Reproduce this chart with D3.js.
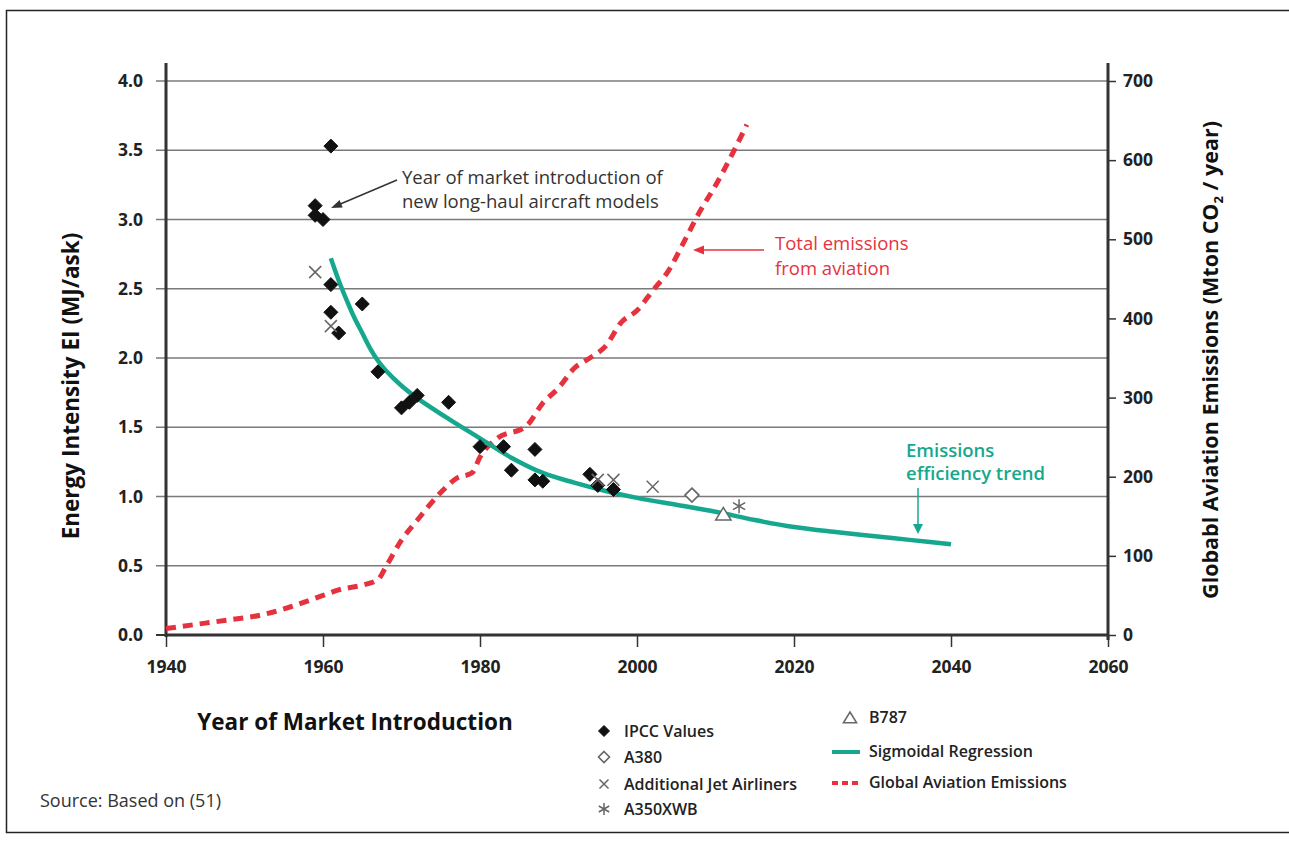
<!DOCTYPE html>
<html><head><meta charset="utf-8">
<script src="https://cdn.jsdelivr.net/npm/d3@7"></script>
<style>
body{margin:0;background:#fff;}
svg{display:block;}
text{font-family:"Open Sans", Lato, sans-serif;}
</style></head>
<body>
<svg id="chart" width="1289" height="843"></svg>
<script>
// ---- data ----
const xTicks = [1940, 1960, 1980, 2000, 2020, 2040, 2060];
const yLeftTicks = [0, 0.5, 1.0, 1.5, 2.0, 2.5, 3.0, 3.5, 4.0];
const yRightTicks = [0, 100, 200, 300, 400, 500, 600, 700];

const ipccYears = [1961,1959,1959,1960,1961,1961,1962,1965,1967,1970,1971,1972,1976,1980,1983,1984,1987,1987,1988,1994,1995,1997];
const ipccEI    = [3.53,3.10,3.03,3.00,2.53,2.33,2.18,2.39,1.90,1.64,1.68,1.73,1.68,1.36,1.36,1.19,1.34,1.12,1.11,1.16,1.08,1.05];

const jetYears = [1959, 1961, 1995, 1997, 2002];
const jetEI    = [2.62, 2.23, 1.12, 1.12, 1.07];

const a380Years = [2007]; const a380EI = [1.01];
const b787Years = [2011]; const b787EI = [0.87];
const a350Years = [2013]; const a350EI = [0.93];

const trendYears = [1961, 1962, 1963, 1964, 1965, 1966, 1967, 1968, 1970, 1972, 1976, 1980, 1984, 1988, 1992, 1996, 2000, 2005, 2010, 2015, 2020, 2025, 2030, 2035, 2040];
const trendEI    = [2.72, 2.56, 2.42, 2.29, 2.18, 2.07, 1.98, 1.91, 1.80, 1.71, 1.56, 1.42, 1.28, 1.17, 1.10, 1.04, 0.99, 0.94, 0.89, 0.83, 0.78, 0.745, 0.715, 0.685, 0.655];

const emisYears = [1940,1945,1948,1952,1956,1960,1962,1965,1967,1968,1970,1972,1975,1977,1979,1980,1982,1986,1988,1990,1992,1994,1996,1998,2000,2002,2004,2006,2008,2010,2012,2014];
const emisMt    = [8,15,19,25,36,50,57,63,70,86,120,145,180,198,205,225,247,265,293,312,337,350,365,395,410,435,460,497,535,568,605,645];

// ---- layout ----
const svg = d3.select("#chart");
const x = d3.scaleLinear().domain([1940, 2060]).range([166, 1108]);
const yL = d3.scaleLinear().domain([0, 4]).range([635, 81]);
const yR = d3.scaleLinear().domain([0, 700]).range([635, 81]);
const TEAL = "#16a88e", RED = "#e6323e", GRAY = "#666", INK = "#222";

// frame
svg.append("rect").attr("x", 6.5).attr("y", 10.5).attr("width", 1300).attr("height", 822)
  .attr("fill", "none").attr("stroke", "#222").attr("stroke-width", 1.5);

// gridlines (left axis)
svg.append("g").selectAll("line").data(yLeftTicks.filter(d => d > 0)).join("line")
  .attr("x1", 156).attr("x2", x(2060)).attr("y1", d => yL(d)).attr("y2", d => yL(d))
  .attr("stroke", "#7a7a7a").attr("stroke-width", 1.3);

const tickStyle = sel => sel.attr("font-size", 17.5).attr("font-weight", 700).attr("fill", INK).attr("font-family", "Open Sans");

// left axis
const gL = svg.append("g").attr("transform", `translate(${x(1940)},0)`)
  .call(d3.axisLeft(yL).tickValues(yLeftTicks).tickFormat(d3.format(".1f")).tickSize(0).tickPadding(23));
gL.select(".domain").remove();
tickStyle(gL.selectAll("text"));
svg.append("line").attr("x1", x(1940)).attr("x2", x(1940)).attr("y1", 63).attr("y2", 637)
  .attr("stroke", "#333").attr("stroke-width", 3);
svg.append("line").attr("x1", 156).attr("x2", x(1940)).attr("y1", yL(0)).attr("y2", yL(0))
  .attr("stroke", "#333").attr("stroke-width", 2);

// right axis
const gR = svg.append("g").attr("transform", `translate(${x(2060)},0)`)
  .call(d3.axisRight(yR).tickValues(yRightTicks).tickSize(8).tickPadding(7));
gR.select(".domain").remove();
gR.selectAll(".tick line").attr("stroke", "#333").attr("stroke-width", 1.5);
tickStyle(gR.selectAll("text"));
svg.append("line").attr("x1", x(2060)).attr("x2", x(2060)).attr("y1", 63).attr("y2", 640)
  .attr("stroke", "#333").attr("stroke-width", 3);

// bottom axis
const gB = svg.append("g").attr("transform", `translate(0,${yL(0)})`)
  .call(d3.axisBottom(x).tickValues(xTicks).tickFormat(d3.format("d")).tickSize(12).tickPadding(14));
gB.select(".domain").remove();
gB.selectAll(".tick line").attr("stroke", "#333").attr("stroke-width", 1.5);
tickStyle(gB.selectAll("text"));
svg.append("line").attr("x1", x(1940)).attr("x2", x(2060)).attr("y1", yL(0)).attr("y2", yL(0))
  .attr("stroke", "#333").attr("stroke-width", 3);

// axis titles
svg.append("text").attr("transform", "translate(79,386) rotate(-90)").attr("text-anchor", "middle")
  .attr("font-size", 22.5).attr("font-weight", 700).attr("fill", "#111").text("Energy Intensity EI (MJ/ask)");
const rt = svg.append("text").attr("transform", "translate(1218,360) rotate(-90)").attr("text-anchor", "middle")
  .attr("font-size", 21.5).attr("font-weight", 700).attr("fill", "#111");
rt.append("tspan").text("Globabl Aviation Emissions (Mton CO");
rt.append("tspan").attr("font-size", 13).attr("dy", 5).text("2");
rt.append("tspan").attr("dy", -5).text(" / year)");
svg.append("text").attr("x", 355).attr("y", 730).attr("text-anchor", "middle")
  .attr("font-size", 22.5).attr("font-weight", 700).attr("fill", "#111").text("Year of Market Introduction");

// emissions line (right axis)
const emis = emisYears.map((d, i) => [d, emisMt[i]]);
svg.append("path").datum(emis)
  .attr("d", d3.line().x(d => x(d[0])).y(d => yR(d[1])).curve(d3.curveMonotoneX))
  .attr("fill", "none").attr("stroke", RED).attr("stroke-width", 5).attr("stroke-dasharray", "10,7");

// trend line
const trend = trendYears.map((d, i) => [d, trendEI[i]]);
svg.append("path").datum(trend)
  .attr("d", d3.line().x(d => x(d[0])).y(d => yL(d[1])).curve(d3.curveCatmullRom))
  .attr("fill", "none").attr("stroke", TEAL).attr("stroke-width", 4.5);

// symbols
function diamond(g, cx, cy, r, filled) {
  g.append("path").attr("d", `M${cx},${cy - r}L${cx + r},${cy}L${cx},${cy + r}L${cx - r},${cy}Z`)
    .attr("fill", filled ? "#111" : "#fff").attr("stroke", filled ? "#111" : GRAY).attr("stroke-width", filled ? 1 : 1.6);
}
function cross(g, cx, cy, r) {
  g.append("path").attr("d", `M${cx - r},${cy - r}L${cx + r},${cy + r}M${cx - r},${cy + r}L${cx + r},${cy - r}`)
    .attr("stroke", GRAY).attr("stroke-width", 1.5).attr("fill", "none");
}
function star(g, cx, cy, r) {
  let d = `M${cx},${cy - r}L${cx},${cy + r}`;
  const a = r * 0.87, b = r * 0.5;
  d += `M${cx - a},${cy - b}L${cx + a},${cy + b}M${cx - a},${cy + b}L${cx + a},${cy - b}`;
  g.append("path").attr("d", d).attr("stroke", GRAY).attr("stroke-width", 1.5).attr("fill", "none");
}
function tri(g, cx, cy, r) {
  g.append("path").attr("d", `M${cx},${cy - r}L${cx + r * 1.1},${cy + r * 0.8}L${cx - r * 1.1},${cy + r * 0.8}Z`)
    .attr("fill", "#fff").attr("stroke", GRAY).attr("stroke-width", 1.5);
}
const gm = svg.append("g");
ipccYears.forEach((yr, i) => diamond(gm, x(yr), yL(ipccEI[i]), 7, true));
jetYears.forEach((yr, i) => cross(gm, x(yr), yL(jetEI[i]), 6));
a380Years.forEach((yr, i) => diamond(gm, x(yr), yL(a380EI[i]), 7, false));
b787Years.forEach((yr, i) => tri(gm, x(yr), yL(b787EI[i]), 7));
a350Years.forEach((yr, i) => star(gm, x(yr), yL(a350EI[i]), 7));

// annotations
function arrowHead(g, tx, ty, fx, fy, color, len, w) {
  const ang = Math.atan2(ty - fy, tx - fx);
  const bx = tx - len * Math.cos(ang), by = ty - len * Math.sin(ang);
  const px = -Math.sin(ang) * w, py = Math.cos(ang) * w;
  g.append("path").attr("d", `M${tx},${ty}L${bx + px},${by + py}L${bx - px},${by - py}Z`).attr("fill", color);
}
const ga = svg.append("g");
const annot = (tx, ty, t, color, w) => ga.append("text").attr("x", tx).attr("y", ty).attr("font-size", 18.5)
  .attr("font-weight", w).attr("fill", color).text(t);
ga.append("line").attr("x1", 397).attr("y1", 180).attr("x2", 338).attr("y2", 205).attr("stroke", "#333").attr("stroke-width", 1.5);
arrowHead(ga, 331, 208, 397, 180, "#333", 11, 4);
annot(402, 184, "Year of market introduction of", "#333", 500);
annot(402, 208, "new long-haul aircraft models", "#333", 500);

ga.append("line").attr("x1", 764).attr("y1", 250).attr("x2", 700).attr("y2", 250).attr("stroke", RED).attr("stroke-width", 1.5);
arrowHead(ga, 693, 250, 764, 250, RED, 11, 4.5);
annot(775, 250, "Total emissions", RED, 500);
annot(775, 275, "from aviation", RED, 500);

ga.append("line").attr("x1", 918).attr("y1", 488).attr("x2", 918).attr("y2", 526).attr("stroke", TEAL).attr("stroke-width", 1.5);
arrowHead(ga, 918, 534, 918, 488, TEAL, 10, 5);
annot(906, 457, "Emissions", TEAL, 600);
annot(906, 480, "efficiency trend", TEAL, 600);

// legend
const gl = svg.append("g");
const legText = (lx, ly, t) => gl.append("text").attr("x", lx).attr("y", ly + 6).attr("font-size", 16)
  .attr("font-weight", 600).attr("fill", "#222").text(t);
diamond(gl, 604, 731, 5.5, true); legText(624, 731, "IPCC Values");
diamond(gl, 604, 757, 5.5, false); legText(624, 757, "A380");
cross(gl, 604, 784, 4.5); legText(624, 784, "Additional Jet Airliners");
star(gl, 604, 809, 6); legText(624, 809, "A350XWB");
tri(gl, 850, 718, 6); legText(869, 717, "B787");
gl.append("line").attr("x1", 832).attr("x2", 860).attr("y1", 752).attr("y2", 752).attr("stroke", TEAL).attr("stroke-width", 4);
legText(869, 751, "Sigmoidal Regression");
gl.append("line").attr("x1", 832).attr("x2", 860).attr("y1", 783).attr("y2", 783).attr("stroke", RED).attr("stroke-width", 4).attr("stroke-dasharray", "6,4");
legText(869, 782, "Global Aviation Emissions");

// source
svg.append("text").attr("x", 40).attr("y", 807).attr("font-family", "Liberation Sans, Arial, sans-serif")
  .attr("font-size", 18).attr("fill", "#333").text("Source: Based on (51)");
</script>
</body></html>
